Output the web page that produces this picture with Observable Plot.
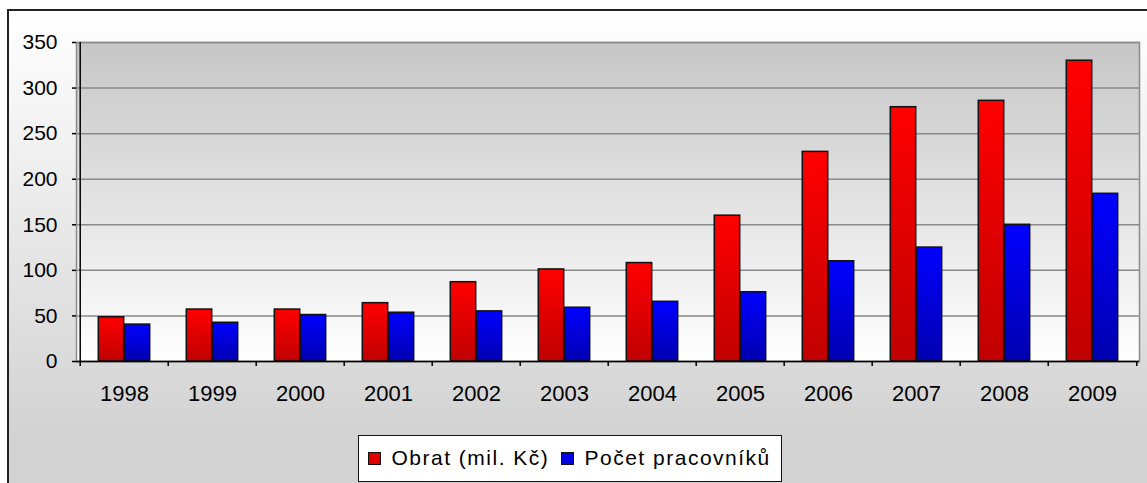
<!DOCTYPE html>
<html><head><meta charset="utf-8">
<script src="https://cdn.jsdelivr.net/npm/d3@7"></script>
<script src="https://cdn.jsdelivr.net/npm/@observablehq/plot@0.6"></script>
<style>
html,body{margin:0;padding:0;background:#fff;}
#wrap{position:relative;width:1147px;height:483px;overflow:hidden;font-family:"Liberation Sans",Arial,sans-serif;}
#bg{position:absolute;left:7px;top:9px;width:1170px;height:500px;box-sizing:border-box;border:2px solid #222;background:linear-gradient(to bottom,#ffffff 0px,#d3d3d3 420px);}
#chart{position:absolute;left:0;top:0;}
#legend{position:absolute;left:358px;top:435px;width:424px;height:47px;box-sizing:border-box;border:1.5px solid #111;background:#fff;font-size:21px;letter-spacing:1.5px;color:#000;}
.item{position:absolute;top:0;height:44px;display:flex;align-items:center;white-space:nowrap;}
.sw{display:inline-block;width:11px;height:11px;border:1px solid #111;margin-right:11px;}
</style></head>
<body>
<div id="wrap">
  <div id="bg"></div>
  <div id="chart"></div>
  <div id="legend"></div>
</div>
<script>
const years = ["1998","1999","2000","2001","2002","2003","2004","2005","2006","2007","2008","2009"];
const obrat = [48.5, 57, 57, 64, 87, 101, 108, 160, 230, 279, 286, 330];
const pocet = [40.5, 42.5, 51, 53.5, 55, 59, 65.5, 76, 110, 125, 150, 184];
const seriesNames = ["Obrat (mil. Kč)", "Počet pracovníků"];
const yTicks = [0, 50, 100, 150, 200, 250, 300, 350];

const data = years.map((year, i) => ({year, obrat: obrat[i], pocet: pocet[i]}));

const W = 1147, mL = 76, mR = 8;
const bw = (W - mL - mR) / years.length;
const half = bw / 2;
const barW = 26;

function defsMark() {
  const ns = "http://www.w3.org/2000/svg";
  const defs = document.createElementNS(ns, "defs");
  defs.innerHTML = `
    <linearGradient id="plotBg" x1="0" y1="0" x2="0" y2="1">
      <stop offset="0" stop-color="#c6c6c6"/><stop offset="1" stop-color="#ffffff"/>
    </linearGradient>
    <linearGradient id="gRed" x1="0" y1="0" x2="0" y2="1">
      <stop offset="0" stop-color="#ff0000"/><stop offset="1" stop-color="#c00000"/>
    </linearGradient>
    <linearGradient id="gBlue" x1="0" y1="0" x2="0" y2="1">
      <stop offset="0" stop-color="#0000ff"/><stop offset="1" stop-color="#0000b0"/>
    </linearGradient>`;
  return defs;
}

const chart = Plot.plot({
  width: W,
  height: 420,
  marginLeft: mL,
  marginRight: mR,
  marginTop: 42,
  marginBottom: 59,
  style: {fontFamily: "'Liberation Sans', Arial, sans-serif", fontSize: "21px", color: "#000", background: "transparent", overflow: "visible"},
  x: {type: "band", domain: years, padding: 0, label: null},
  y: {domain: [0, 350], label: null},
  marks: [
    defsMark,
    Plot.frame({fill: "url(#plotBg)", stroke: "#8a8a8a", strokeWidth: 1.5}),
    Plot.gridY(yTicks, {stroke: "#8a8a8a", strokeOpacity: 1, strokeWidth: 1.5}),
    Plot.barY(data, {x: "year", y: "obrat", fill: "url(#gRed)", stroke: "#111", strokeWidth: 1.5,
      insetLeft: half - barW, insetRight: half}),
    Plot.barY(data, {x: "year", y: "pocet", fill: "url(#gBlue)", stroke: "#111", strokeWidth: 1.5,
      insetLeft: half, insetRight: half - barW}),
    Plot.ruleX([years[0]], {dx: -half, stroke: "#000", strokeWidth: 1.5}),
    Plot.ruleY([0], {stroke: "#000", strokeWidth: 1.5}),
    Plot.axisY({ticks: yTicks, tickSize: 4, tickPadding: 15, fontSize: 21, stroke: "#000", strokeWidth: 1.5, label: null}),
    Plot.axisX({tickSize: 5, dx: -half, text: null, stroke: "#000", strokeWidth: 1.5, label: null}),
    Plot.axisX({ticks: [years[years.length - 1]], tickSize: 5, dx: half, text: null, stroke: "#000", strokeWidth: 1.5, label: null}),
    Plot.axisX({tickSize: 0, tickPadding: 24, fontSize: 22, label: null})
  ]
});
document.getElementById("chart").appendChild(chart);

const legend = document.getElementById("legend");
const colors = ["#e00000", "#0000e0"];
const lefts = [8.5, 201.5];
seriesNames.forEach((name, i) => {
  const it = document.createElement("div");
  it.className = "item";
  it.style.left = lefts[i] + "px";
  const sw = document.createElement("span");
  sw.className = "sw";
  sw.style.background = colors[i];
  it.appendChild(sw);
  it.appendChild(document.createTextNode(name));
  legend.appendChild(it);
});
</script>
</body></html>
